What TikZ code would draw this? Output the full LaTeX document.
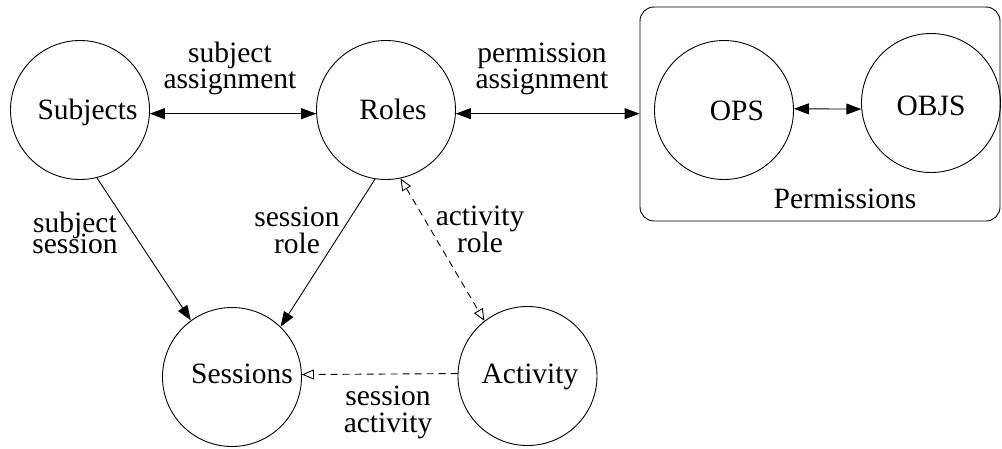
\documentclass[tikz,border=0pt]{standalone}
\usepackage{fontspec}
\setmainfont{Liberation Serif}
\usetikzlibrary{arrows.meta}
\newcommand\mylines[3]{\vtop{\baselineskip=#3\lineskiplimit=-100pt\halign{\hfil##\hfil\cr #1\cr #2\cr}}}
\begin{document}
\begin{tikzpicture}[x=1pt,y=-1pt,
  every node/.style={font=\fontsize{29.5pt}{30pt}\selectfont, inner sep=0pt},
  ent/.style={draw, circle, minimum size=139pt, line width=0.9pt, text depth=0pt},
  lbl/.style={anchor=base},
  con/.style={line width=0.9pt},
  sarrow/.style={con, -{Triangle[length=15pt,width=11pt]}},
  darrow/.style={con, {Triangle[length=15pt,width=11pt]}-{Triangle[length=15pt,width=11pt]}},
  oarrow/.style={con, dash pattern=on 7pt off 5pt, -{Triangle[open,fill=white,length=12pt,width=10pt]}},
  odarrow/.style={con, dash pattern=on 7pt off 5pt, {Triangle[open,fill=white,length=12pt,width=10pt]}-{Triangle[open,fill=white,length=12pt,width=10pt]}}
]
\useasboundingbox (0,0) rectangle (1002,448);
\node[ent, text height=18pt] (subj) at (80,110) {\kern15pt Subjects};
\node[ent, text height=18pt] (roles) at (386,110) {\kern14pt Roles};
\node[ent, text height=12pt] (sess) at (232,377) {\kern20pt Sessions};
\node[ent, text height=14pt] (act) at (527.5,376) {\kern5pt Activity};
\node[draw, rounded corners=14pt, minimum width=360pt, minimum height=214pt, line width=0.9pt] (perm) at (820,114) {};
\node[ent, text height=20pt] (ops) at (724,110) {\kern26pt OPS};
\node[ent, text height=24pt] (objs) at (931,103) {OBJS};
\node[lbl] (permtext) at (845,208) {Permissions};

\draw[darrow] (subj.-3) -- (roles.183);
\draw[darrow] (roles.-3) -- (perm.west |- roles.-3);
\draw[darrow] (ops.1) -- (objs.185);
\draw[sarrow] (subj.-76) -- (sess.126);
\draw[sarrow] (roles.-99) -- (sess.46);
\draw[odarrow] (roles.-78) -- (act.128);
\draw[oarrow] (act.178) -- (sess.2);

\node[lbl] (sa) at (230,62) {\mylines{subject}{assignment}{26pt}};
\node[lbl] (pa) at (542,62) {\mylines{permission}{assignment}{26pt}};
\node[lbl] (ss) at (75,232) {\mylines{subject}{session}{21pt}};
\node[lbl] (sr) at (297,226) {\mylines{session}{role}{27pt}};
\node[lbl] (ar) at (480,225) {\mylines{activity}{role}{27pt}};
\node[lbl] (sac) at (388,405) {\mylines{session}{activity}{27pt}};
\end{tikzpicture}
\end{document}
